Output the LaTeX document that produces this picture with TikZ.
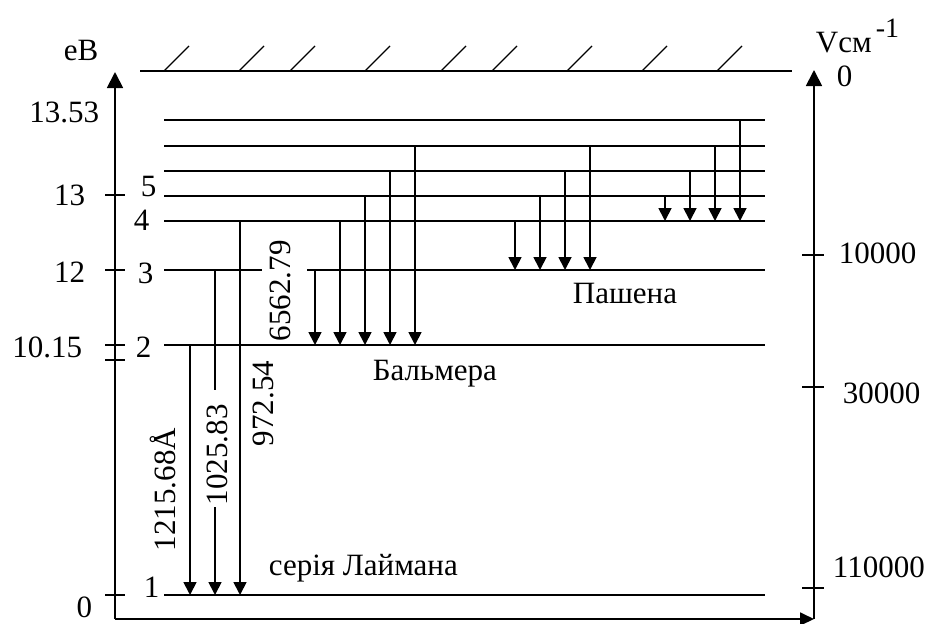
\documentclass[tikz,border=0pt]{standalone}
\usepackage{fontspec}
\setmainfont{Liberation Serif}
\usetikzlibrary{arrows.meta}

\begin{document}
\begin{tikzpicture}[x=1pt,y=-1pt,line width=1.8pt,
  lbl/.style={font=\fontsize{31}{31}\selectfont,inner sep=0pt},
  sup/.style={font=\fontsize{28}{28}\selectfont,inner sep=0pt},
  trans/.style={-{Triangle[width=13pt,length=13pt]}},
  axisarrow/.style={-{Triangle[width=16pt,length=16pt]}},
  hatch/.style={line width=1.3pt}]
\useasboundingbox (0,0) rectangle (930,624);

% energy levels (y positions)
\def\Li{595}\def\Lii{345}\def\Liii{270}\def\Liv{221}
\def\Lv{196}\def\Lvi{171}\def\Lvii{146}\def\Lviii{120}

% axes
\coordinate (origin) at (115,619);
\coordinate (ltop) at (115,72);
\coordinate (rbot) at (814,619);
\coordinate (rtop) at (814,70);
\draw[axisarrow] (origin) -- (ltop);
\draw[axisarrow] (rbot) -- (rtop);
\draw[-{Triangle[width=13pt,length=14pt]}] (origin) -- (rbot);

% ionisation limit with hatching
\draw (140,71) -- (792,71);
\foreach \h in {164,239,290,365,441,492,567,642,717}
  \draw[hatch] (\h,71) -- (\h+25,46);

% levels
\foreach \y in {\Lviii,\Lvii,\Lvi,\Lv,\Liv,\Lii,\Li}
  \draw (164,\y) -- (765,\y);
\draw (164,\Liii) -- (262,\Liii);
\draw (307,\Liii) -- (765,\Liii);

% left axis ticks
\foreach \y in {195,270,345,360,595}
  \draw (105,\y) -- (125,\y);
% right axis ticks
\foreach \y in {255,387,588}
  \draw (802,\y) -- (824,\y);

% Lyman series
\draw[trans] (190,\Lii) -- (190,\Li);
\draw (215,\Liii) -- (215,390);
\draw[trans] (215,507) -- (215,\Li);
\draw[trans] (240,\Liv) -- (240,\Li);

% Balmer series
\draw[trans] (315,\Liii) -- (315,\Lii);
\draw[trans] (340,\Liv) -- (340,\Lii);
\draw[trans] (365,\Lv) -- (365,\Lii);
\draw[trans] (390,\Lvi) -- (390,\Lii);
\draw[trans] (415,\Lvii) -- (415,\Lii);

% Paschen series
\draw[trans] (515,\Liv) -- (515,\Liii);
\draw[trans] (540,\Lv) -- (540,\Liii);
\draw[trans] (565,\Lvi) -- (565,\Liii);
\draw[trans] (590,\Lvii) -- (590,\Liii);

% Brackett series
\draw[trans] (665,\Lv) -- (665,\Liv);
\draw[trans] (690,\Lvi) -- (690,\Liv);
\draw[trans] (715,\Lvii) -- (715,\Liv);
\draw[trans] (740,\Lviii) -- (740,\Liv);

% left scale labels
\node[lbl,anchor=base west] (ev) at (63,60) {еВ};
\node[lbl,anchor=base east] (e1353) at (100,122) {13.53};
\node[lbl,anchor=base east] (e13) at (86,205) {13};
\node[lbl,anchor=base east] (e12) at (86,282) {12};
\node[lbl,anchor=base east] (e1015) at (83,357) {10.15};
\node[lbl,anchor=base east] (e0) at (93,617) {0};

% quantum numbers
\node[lbl,anchor=base west] (n5) at (140,196) {5};
\node[lbl,anchor=base west] (n4) at (133,230) {4};
\node[lbl,anchor=base west] (n3) at (137,283) {3};
\node[lbl,anchor=base west] (n2) at (135,357) {2};
\node[lbl,anchor=base west] (n1) at (143,597) {1};

% right scale labels
\node[lbl,anchor=base west] (vcm) at (815,52) {Vсм};
\node[sup,anchor=base west] (vexp) at (875,37) {-1};
\node[lbl,anchor=base west] (w0) at (836,86) {0};
\node[lbl,anchor=base west] (w1) at (838,263) {10000};
\node[lbl,anchor=base west] (w3) at (842,403) {30000};
\node[lbl,anchor=base west] (w11) at (832,577) {110000};

% wavelengths
\node[lbl,anchor=base west,rotate=90] (l1) at (175,552) {1215.68Å};
\node[lbl,anchor=base west,rotate=90] (l2) at (227,506) {1025.83};
\node[lbl,anchor=base west,rotate=90] (l3) at (273,447) {972.54};
\node[lbl,anchor=base west,rotate=90] (l4) at (290,342) {6562.79};

% series names
\node[lbl,anchor=base west] (balmer) at (372,380) {Бальмера};
\node[lbl,anchor=base west] (paschen) at (572,303) {Пашена};
\node[lbl,anchor=base west] (lyman) at (268,575) {серія Лаймана};
\end{tikzpicture}
\end{document}
